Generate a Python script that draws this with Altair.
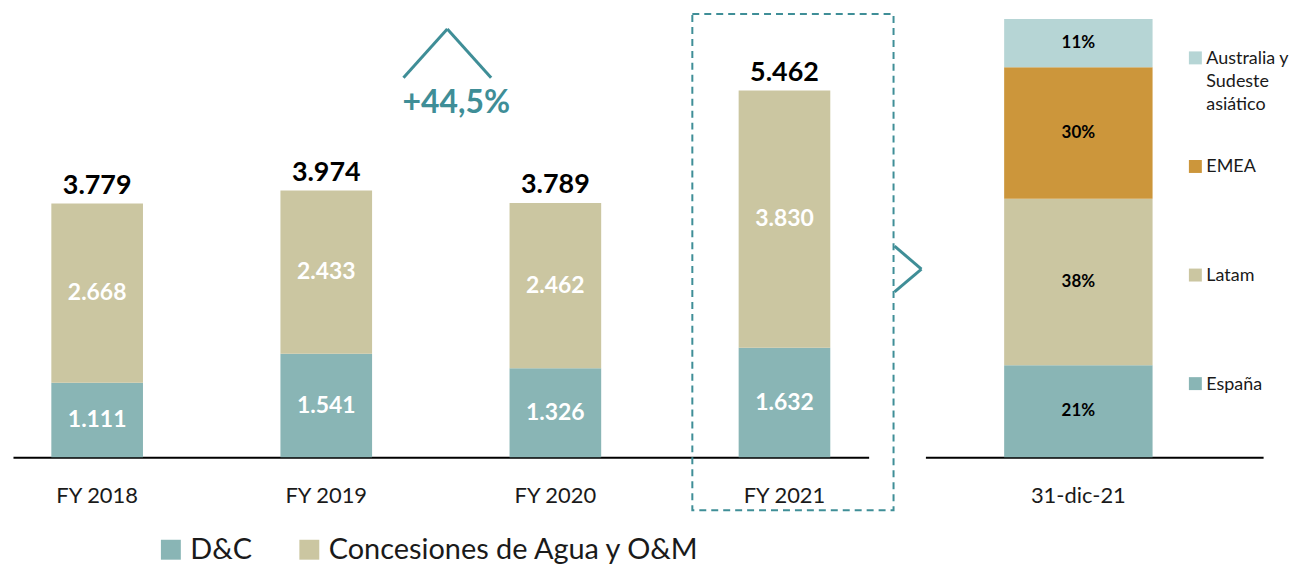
import altair as alt
import pandas as pd

# ---------------- data ----------------
years = ["FY 2018", "FY 2019", "FY 2020", "FY 2021"]
dc_values = [1111, 1541, 1326, 1632]
conc_values = [2668, 2433, 2462, 3830]
totals = [3779, 3974, 3789, 5462]
series = ["D&C", "Concesiones de Agua y O&M"]
series_colors = ["#89b5b5", "#cbc6a1"]

regions = ["España", "Latam", "EMEA", "Australia y Sudeste asiático"]
region_labels = ["España", "Latam", "EMEA", "Australia y|Sudeste|asiático"]
shares = [21, 38, 30, 11]
region_colors = ["#89b5b5", "#cbc6a1", "#cc963b", "#b6d5d5"]
date_label = "31-dic-21"
growth_label = "+44,5%"
highlight_year = "FY 2021"

FONT = "Lato"
TEAL = "#3f8e97"
TXT = "#1a1a1a"

rows = []
for i, yr in enumerate(years):
    rows.append({"year": yr, "series": series[0], "idx": 0, "value": dc_values[i]})
    rows.append({"year": yr, "series": series[1], "idx": 1, "value": conc_values[i]})
bars_df = pd.DataFrame(rows)
tot_df = pd.DataFrame({"year": years, "total": totals})
reg_df = pd.DataFrame({
    "date": [date_label] * len(regions),
    "region": regions,
    "label": region_labels,
    "share": shares,
    "idx": list(range(len(regions))),
})

axis_style = dict(title=None, labelAngle=0, ticks=False, domainColor="black",
                  domainWidth=2, labelFont=FONT, labelFontSize=22, labelColor=TXT,
                  labelPadding=45, labelBaseline="alphabetic", grid=False)

# ---------------- left panel ----------------
x_left = alt.X("year:N", sort=years,
               scale=alt.Scale(paddingInner=0.6, paddingOuter=0.1674),
               axis=alt.Axis(**axis_style))
y_scale_left = alt.Scale(domain=[0, 6528], nice=False, zero=True)

base = alt.Chart(bars_df).transform_stack(
    stack="value", groupby=["year"], as_=["v0", "v1"],
    sort=[alt.SortField("idx", order="ascending")]
).transform_calculate(
    mid="(datum.v0 + datum.v1) / 2",
    txt="replace(format(datum.value, ','), ',', '.')"
)

bars = base.mark_bar().encode(
    x=x_left,
    y=alt.Y("v0:Q", scale=y_scale_left, axis=None),
    y2="v1:Q",
    color=alt.Color("series:N", scale=alt.Scale(domain=series, range=series_colors),
                    legend=alt.Legend(orient="none", legendX=144, legendY=518,
                                      direction="horizontal", title=None,
                                      symbolType="square", symbolSize=400,
                                      symbolStrokeWidth=0, symbolOpacity=1,
                                      labelFont=FONT, labelFontSize=29,
                                      labelColor=TXT, labelOffset=5,
                                      labelLimit=0, columnPadding=42)),
)

seg_text = base.mark_text(font=FONT, fontSize=23, fontWeight="bold",
                          color="white", baseline="middle").encode(
    x=x_left,
    y=alt.Y("mid:Q", scale=y_scale_left, axis=None),
    text="txt:N",
)

tot_text = alt.Chart(tot_df).transform_calculate(
    txt="replace(format(datum.total, ','), ',', '.')"
).mark_text(font=FONT, fontSize=27, fontWeight="bold", color="black",
            baseline="alphabetic", dy=-10).encode(
    x=x_left,
    y=alt.Y("total:Q", scale=y_scale_left, axis=None),
    text="txt:N",
)

hl = alt.Chart(tot_df).transform_filter(alt.datum.year == highlight_year)

box = hl.mark_rect(fill=None, stroke=TEAL, strokeWidth=2, strokeDash=[7, 5]).encode(
    x=alt.value(682), x2=alt.value(884), y=alt.value(-5), y2=alt.value(493))

caret_l = hl.mark_rule(color=TEAL, strokeWidth=3).encode(
    x=alt.value(392), y=alt.value(59), x2=alt.value(436), y2=alt.value(10))
caret_r = hl.mark_rule(color=TEAL, strokeWidth=3).encode(
    x=alt.value(436), y=alt.value(10), x2=alt.value(480), y2=alt.value(59))
growth = hl.mark_text(text=growth_label, font=FONT, fontSize=32, fontWeight="bold",
                      color=TEAL, baseline="alphabetic", align="center").encode(
    x=alt.value(445), y=alt.value(94))

arrow_a = hl.mark_rule(color=TEAL, strokeWidth=3).encode(
    x=alt.value(885), y=alt.value(228), x2=alt.value(912), y2=alt.value(251))
arrow_b = hl.mark_rule(color=TEAL, strokeWidth=3).encode(
    x=alt.value(912), y=alt.value(251), x2=alt.value(885), y2=alt.value(274))

left = alt.layer(bars, seg_text, tot_text, box, caret_l, caret_r, growth,
                 arrow_a, arrow_b).properties(width=859, height=440)

# ---------------- right panel ----------------
x_right = alt.X("date:N",
                scale=alt.Scale(paddingInner=0, paddingOuter=0.6376, align=0.416),
                axis=alt.Axis(**axis_style))
y_scale_right = alt.Scale(domain=[0, 100], nice=False, zero=True)
reg_color = alt.Color("region:N", scale=alt.Scale(domain=regions, range=region_colors),
                      legend=None)

rbase = alt.Chart(reg_df).transform_stack(
    stack="share", groupby=["date"], as_=["s0", "s1"],
    sort=[alt.SortField("idx", order="ascending")]
).transform_calculate(
    mid="(datum.s0 + datum.s1) / 2",
    pct="datum.share + '%'"
)

rbars = rbase.mark_bar().encode(
    x=x_right,
    y=alt.Y("s0:Q", scale=y_scale_right, axis=None),
    y2="s1:Q",
    color=reg_color,
)
rtext = rbase.mark_text(font=FONT, fontSize=17, fontWeight="bold", color="black",
                        baseline="middle").encode(
    x=x_right,
    y=alt.Y("mid:Q", scale=y_scale_right, axis=None),
    text="pct:N",
)

leg_y = alt.Y("region:N", scale=alt.Scale(domain=regions, range=[366, 39], padding=0),
              axis=None)
leg_sq = alt.Chart(reg_df).mark_square(size=169, opacity=1).encode(
    x=alt.value(271), y=leg_y, color=reg_color)
leg_txt = alt.Chart(reg_df).mark_text(font=FONT, fontSize=18, color=TXT, align="left",
                                      baseline="alphabetic", dy=6, lineBreak="|",
                                      lineHeight=23).encode(
    x=alt.value(282), y=leg_y, text="label:N")

right = alt.layer(rbars, rtext, leg_sq, leg_txt).resolve_scale(
    y="independent").properties(width=339, height=440)

chart = alt.hconcat(left, right, spacing=57, bounds="flush").resolve_scale(
    color="independent"
).properties(
    padding={"left": 5, "top": 4, "right": 0, "bottom": 0}
).configure_view(stroke=None)

chart.save("out.html", embed_options={"renderer": "svg", "actions": False})
